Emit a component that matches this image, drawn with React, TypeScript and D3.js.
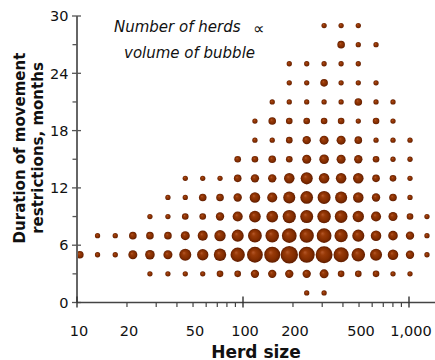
import React from "react";
import * as d3 from "d3";

// herd size bin centres (log spaced) and duration rows (months)
const herdSizes = [10.4, 13.3, 17.0, 21.7, 27.5, 35.3, 44.9, 57.2, 72.7, 92.9, 118, 150, 190, 242, 308, 390, 495, 633, 801, 1014, 1283];
const durations = [1, 3, 5, 7, 9, 11, 13, 15, 17, 19, 21, 23, 25, 27, 29];

// number of herds, one row per duration, one entry per herd size bin
const herdCounts = [
  [0, 0, 0, 0, 0, 0, 0, 0, 0, 0, 0, 0, 0, 1, 1, 0, 0, 0, 0, 0, 0],
  [0, 0, 0, 0, 1, 1, 1, 1, 2, 2, 4, 4, 4, 4, 5, 2, 2, 2, 1, 1, 0],
  [3, 1, 1, 5, 6, 5, 12, 10, 13, 20, 27, 28, 36, 28, 33, 24, 17, 12, 8, 4, 1],
  [0, 1, 1, 3, 3, 3, 5, 7, 10, 12, 18, 17, 22, 20, 22, 16, 12, 8, 6, 4, 1],
  [0, 0, 0, 0, 1, 1, 2, 2, 4, 7, 11, 11, 16, 15, 17, 14, 10, 7, 5, 2, 1],
  [0, 0, 0, 0, 0, 1, 1, 3, 3, 4, 8, 7, 12, 14, 15, 12, 8, 4, 3, 1, 0],
  [0, 0, 0, 0, 0, 0, 1, 1, 1, 3, 4, 4, 8, 12, 8, 8, 8, 3, 2, 1, 0],
  [0, 0, 0, 0, 0, 0, 0, 0, 0, 2, 2, 3, 2, 5, 6, 5, 4, 2, 1, 1, 0],
  [0, 0, 0, 0, 0, 0, 0, 0, 0, 0, 1, 1, 2, 4, 5, 5, 3, 1, 1, 1, 0],
  [0, 0, 0, 0, 0, 0, 0, 0, 0, 0, 1, 3, 2, 2, 2, 2, 1, 2, 1, 0, 0],
  [0, 0, 0, 0, 0, 0, 0, 0, 0, 0, 0, 1, 1, 1, 1, 1, 3, 1, 1, 0, 0],
  [0, 0, 0, 0, 0, 0, 0, 0, 0, 0, 0, 0, 1, 1, 3, 1, 1, 1, 0, 0, 0],
  [0, 0, 0, 0, 0, 0, 0, 0, 0, 0, 0, 0, 1, 1, 1, 1, 1, 0, 0, 0, 0],
  [0, 0, 0, 0, 0, 0, 0, 0, 0, 0, 0, 0, 0, 0, 0, 3, 1, 1, 0, 0, 0],
  [0, 0, 0, 0, 0, 0, 0, 0, 0, 0, 0, 0, 0, 0, 1, 1, 1, 0, 0, 0, 0],
];

const xTickValues = [10, 20, 50, 100, 200, 500, 1000];
const xTickLabels = ["10", "20", "50", "100", "200", "500", "1,000"];
const yTickValues = [0, 6, 12, 18, 24, 30];
const yMinorValues = [3, 9, 15, 21, 27];

const FONT = "DejaVu Sans";

const App = () => {
  const width = 435;
  const height = 360;

  const x = d3.scaleLog().domain([10, 1000]).range([77, 409]);
  const y = d3.scaleLinear().domain([0, 30]).range([302.5, 16]);
  // volume of bubble proportional to number of herds
  const maxCount = d3.max(herdCounts, (row) => d3.max(row)) as number;
  const r = d3.scalePow().exponent(1 / 3).domain([0, maxCount]).range([0, 8.7]);

  const bubbles: { cx: number; cy: number; r: number }[] = [];
  herdCounts.forEach((row, i) => {
    row.forEach((n, j) => {
      if (n > 0) bubbles.push({ cx: x(herdSizes[j]), cy: y(durations[i]), r: r(n) });
    });
  });

  const xMinor = x
    .copy()
    .domain([10, 1500])
    .ticks()
    .filter((v) => ![10, 100, 1000].includes(v) && x(v) < width);

  const axisY = y(0);
  const axisX = x(10);

  return (
    <svg
      width={width}
      height={height}
      style={{ position: "absolute", left: 0, top: 0, background: "#fff" }}
    >
      <defs>
        <radialGradient id="bubble" cx="0.5" cy="0.5" r="0.5" fx="0.38" fy="0.34">
          <stop offset="0%" stopColor="#b4582a" />
          <stop offset="30%" stopColor="#983a08" />
          <stop offset="72%" stopColor="#812c00" />
          <stop offset="100%" stopColor="#5e1c00" />
        </radialGradient>
      </defs>

      {/* bubbles */}
      {bubbles.map((b, i) => (
        <circle key={i} cx={b.cx} cy={b.cy} r={b.r} fill="url(#bubble)" />
      ))}

      {/* y axis */}
      <line x1={axisX} x2={axisX} y1={y(30)} y2={axisY} stroke="#666" strokeWidth={2} />
      {yTickValues.map((v) => (
        <g key={v}>
          <line x1={axisX - 5} x2={axisX + 4} y1={y(v)} y2={y(v)} stroke="#555" strokeWidth={1.3} />
          <text
            x={68.5}
            y={y(v)}
            dy="0.36em"
            textAnchor="end"
            fontFamily={FONT}
            fontSize={14.5}
            fill="#111"
          >
            {v}
          </text>
        </g>
      ))}
      {yMinorValues.map((v) => (
        <line key={v} x1={axisX - 4.5} x2={axisX} y1={y(v)} y2={y(v)} stroke="#555" strokeWidth={1.3} />
      ))}

      {/* x axis */}
      <line x1={axisX} x2={width} y1={axisY} y2={axisY} stroke="#444" strokeWidth={1.5} />
      {[10, 100, 1000].map((v) => (
        <line key={v} x1={x(v)} x2={x(v)} y1={axisY - 6} y2={axisY + 5} stroke="#333" strokeWidth={1.4} />
      ))}
      {xMinor.map((v) => (
        <line key={v} x1={x(v)} x2={x(v)} y1={axisY} y2={axisY + 4.5} stroke="#444" strokeWidth={1.2} />
      ))}
      {xTickValues.map((v, i) => (
        <text
          key={v}
          x={x(v) + 2}
          y={336}
          textAnchor="middle"
          fontFamily={FONT}
          fontSize={14.5}
          fill="#111"
        >
          {xTickLabels[i]}
        </text>
      ))}

      {/* axis titles */}
      <text x={256} y={357.5} textAnchor="middle" fontFamily={FONT} fontSize={17} fontWeight="bold" fill="#111">
        Herd size
      </text>
      <g transform="translate(25,148) rotate(-90)">
        <text textAnchor="middle" fontFamily={FONT} fontSize={15} fontWeight="bold" fill="#111">
          Duration of movement
        </text>
      </g>
      <g transform="translate(42.5,148) rotate(-90)">
        <text textAnchor="middle" fontFamily={FONT} fontSize={15} fontWeight="bold" fill="#111">
          restrictions, months
        </text>
      </g>

      {/* legend note */}
      <text x={114} y={31.5} fontFamily={FONT} fontSize={15} fontStyle="italic" fill="#111">
        Number of herds
      </text>
      <text x={253} y={34} fontFamily={FONT} fontSize={16} fill="#111">
        ∝
      </text>
      <text x={124} y={57.5} fontFamily={FONT} fontSize={15} fontStyle="italic" fill="#111">
        volume of bubble
      </text>
    </svg>
  );
};

export default App;
